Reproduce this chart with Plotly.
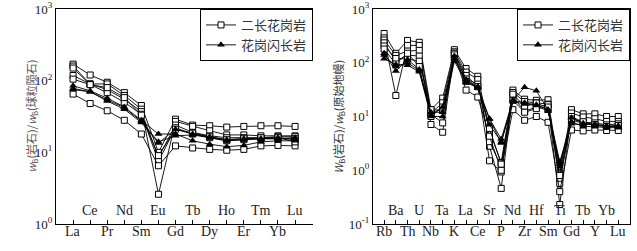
import plotly.graph_objects as go

# ---------------- data ----------------
ree = ["La", "Ce", "Pr", "Nd", "Sm", "Eu", "Gd", "Tb", "Dy", "Ho", "Er", "Tm", "Yb", "Lu"]
spider = ["Rb", "Ba", "Th", "U", "Nb", "Ta", "K", "La", "Ce", "Sr", "P", "Nd", "Zr", "Hf",
          "Sm", "Ti", "Gd", "Tb", "Y", "Yb", "Lu"]

# chondrite-normalised REE, 二长花岗岩 (monzogranite)
ree_mg1 = [170, 120, 95, 68, 45, 10, 29, 24, 23.5, 22.5, 23, 23.5, 23.5, 23]
ree_mg2 = [160, 90, 90, 62, 40, 2.6, 27, 23, 20, 17.5, 17.5, 17, 17, 17]
ree_mg3 = [118, 90, 75, 55, 37, 8.5, 24, 19, 17, 16, 16, 16, 16.5, 16.5]
ree_mg4 = [105, 88, 68, 50, 34, 7.5, 22, 18, 16, 14.5, 15, 15.5, 15.5, 15.5]
ree_mg5 = [65, 48, 38, 28, 18, 6.5, 12.3, 11.5, 11, 10.7, 11, 12.3, 12.5, 12.3]
ree_mg6 = [150, 88, 80, 58, 33, 9, 21, 18.5, 16.5, 15, 15.5, 16, 16, 14]
# chondrite-normalised REE, 花岗闪长岩 (granodiorite)
ree_gd1 = [85, 72, 57, 43, 28, 18, 18, 14.5, 13, 12, 12.5, 14, 14.5, 14.5]
ree_gd2 = [78, 70, 54, 42, 27, 14, 17, 17.5, 16, 14.5, 15, 15.5, 15.5, 16]
ree_gd3 = [75, 70, 52, 40, 26, 13.5, 21, 18, 16.5, 15, 15.5, 15.5, 16, 15]

# primitive-mantle-normalised trace elements, 二长花岗岩
sp_mg1 = [350, 150, 260, 240, 13.5, 22, 175, 78, 56, 5.3, 1.4, 31, 21, 20, 20.5, 0.88, 13.4, 11.2, 11.2, 10, 10]
sp_mg2 = [290, 24.6, 210, 210, 11.6, 18, 160, 67, 49, 2.8, 0.46, 28, 19, 18, 17, 0.23, 11.6, 9.8, 9.1, 8.1, 8.1]
sp_mg3 = [265, 137, 165, 170, 7.1, 5.1, 150, 58, 36, 1.5, 0.93, 23, 12.5, 15, 16.6, 0.57, 10, 7.8, 7.6, 7, 7.3]
sp_mg4 = [235, 107, 139, 133, 11, 7.6, 150, 50, 40, 3.4, 1.17, 26, 15.5, 17.8, 14.5, 0.71, 8.5, 7.5, 7, 6.5, 6.5]
sp_mg5 = [205, 120, 118, 107, 13.4, 13, 140, 31, 23, 4.3, 1.0, 13.4, 8.5, 10, 7.8, 0.4, 5.6, 5.4, 5.6, 5.5, 5.5]
sp_mg6 = [180, 95, 150, 85, 10, 15, 120, 45, 36, 6, 1.3, 20, 12, 14, 15, 0.8, 9, 8, 7, 6.5, 6.8]
# primitive-mantle-normalised trace elements, 花岗闪长岩
sp_gd1 = [150, 70, 115, 75, 10.8, 15, 133, 49, 36, 9.1, 3.8, 20, 35, 30, 13.4, 1.45, 7.3, 7, 7.2, 6.7, 6.7]
sp_gd2 = [119, 93, 90, 68, 10, 10, 107, 43, 34, 9, 3.2, 20, 18, 16.5, 13.4, 1.17, 8, 6.5, 6.5, 6.2, 6.2]
sp_gd3 = [140, 85, 100, 72, 12, 12, 120, 45, 35, 7, 3.4, 19, 17, 16, 12.5, 1.3, 9.5, 7.5, 7, 6.5, 6.4]

name_mg = "二长花岗岩"
name_gd = "花岗闪长岩"

# ---------------- styling ----------------
SERIF = "Liberation Serif"
CJK = "Noto Sans CJK SC"
TXT = "#222222"
sq = dict(symbol="square", size=6, color="white", line=dict(color="black", width=1))
tri = dict(symbol="triangle-up", size=7, color="black", line=dict(color="black", width=0))
ln = dict(color="black", width=0.9)

fig = go.Figure()


def add(xcats, vals, marker, name, show, xa, ya, legend):
    fig.add_trace(go.Scatter(
        x=list(range(len(xcats))), y=vals, mode="lines+markers",
        line=ln, marker=marker, name=name, showlegend=show,
        xaxis=xa, yaxis=ya, legend=legend))


for i, v in enumerate([ree_mg1, ree_mg2, ree_mg3, ree_mg4, ree_mg5, ree_mg6]):
    add(ree, v, sq, name_mg, i == 0, "x", "y", "legend")
for i, v in enumerate([ree_gd1, ree_gd2, ree_gd3]):
    add(ree, v, tri, name_gd, i == 0, "x", "y", "legend")
for i, v in enumerate([sp_mg1, sp_mg2, sp_mg3, sp_mg4, sp_mg5, sp_mg6]):
    add(spider, v, sq, name_mg, i == 0, "x2", "y2", "legend2")
for i, v in enumerate([sp_gd1, sp_gd2, sp_gd3]):
    add(spider, v, tri, name_gd, i == 0, "x2", "y2", "legend2")


def xaxis_cfg(cats, dom, rng, anchor):
    return dict(
        domain=dom, range=rng, anchor=anchor, tickmode="array",
        tickvals=list(range(len(cats))),
        ticktext=["" for _ in cats],
        ticks="inside", ticklen=4, tickcolor="black", tickwidth=1,
        showline=True, linecolor="black", linewidth=1.2, mirror=True,
        showgrid=False, zeroline=False, automargin=False,
        showticklabels=False,
    )


def yaxis_cfg(lo, hi, anchor, mirror):
    vals = [10 ** k for k in range(lo, hi + 1)]
    return dict(
        type="log", range=[lo, hi], anchor=anchor, domain=[0, 1],
        tickmode="array", tickvals=vals,
        ticktext=[f"10<sup>{k}</sup>" for k in range(lo, hi + 1)],
        ticks="", showline=True, linecolor="black", linewidth=1.2, mirror=mirror,
        showgrid=False, zeroline=False, automargin=False,
        tickfont=dict(family=SERIF, size=13, color=TXT),
    )


L, R, T, B = 56, 7, 9, 27
W, H = 637, 251
pw = W - L - R
d1 = [0, (313 - L) / pw]
d2 = [(373 - L) / pw, 1]

legend_common = dict(
    bordercolor="black", borderwidth=1, bgcolor="white",
    font=dict(family=CJK, size=13, color="#333333"),
    yanchor="top", y=1, xanchor="right", itemwidth=30,
    tracegroupgap=0, itemsizing="trace",
)

fig.update_layout(
    width=W, height=H, template=None,
    paper_bgcolor="white", plot_bgcolor="white",
    margin=dict(l=L, r=R, t=T, b=B, autoexpand=False),
    xaxis=xaxis_cfg(ree, d1, [-1, 14.05], "y"),
    yaxis=yaxis_cfg(0, 3, "x", False),
    xaxis2=xaxis_cfg(spider, d2, [-0.95, 21], "y2"),
    yaxis2=yaxis_cfg(-1, 3, "x2", True),
    legend=dict(**legend_common, x=d1[1]),
    legend2=dict(**legend_common, x=1),
    showlegend=True,
)

# element labels: even positions below the axis, odd positions above it (inside)
for xa, ya, cats in (("x", "y", ree), ("x2", "y2", spider)):
    for i, c in enumerate(cats):
        if i % 2 == 1:
            fig.add_annotation(x=i, y=0, xref=xa, yref=f"{ya} domain",
                               text=c, showarrow=False, yanchor="bottom", yshift=4,
                               font=dict(family=SERIF, size=14, color=TXT))
        else:
            fig.add_annotation(x=i, y=0, xref=xa, yref=f"{ya} domain",
                               text=c, showarrow=False, yanchor="top", yshift=2,
                               font=dict(family=SERIF, size=14, color=TXT))

# y-axis titles (paper coords are relative to the plotting area)
fig.add_annotation(x=(31 - L) / pw, y=0.5, xref="paper", yref="paper", textangle=-90,
                   xanchor="center", yanchor="middle",
                   text="<i>w</i><sub>B</sub>(岩石)/<i>w</i><sub>B</sub>(球粒陨石)",
                   showarrow=False, font=dict(family=CJK, size=11, color="#555555"))
fig.add_annotation(x=(338 - L) / pw, y=0.5, xref="paper", yref="paper", textangle=-90,
                   xanchor="center", yanchor="middle",
                   text="<i>W</i><sub>B</sub>(岩石)/<i>w</i><sub>B</sub>(原始地幔)",
                   showarrow=False, font=dict(family=CJK, size=11, color="#333333"))

fig.write_html("out.html", config={"displayModeBar": False},
               post_script="document.body.style.margin='0';")
